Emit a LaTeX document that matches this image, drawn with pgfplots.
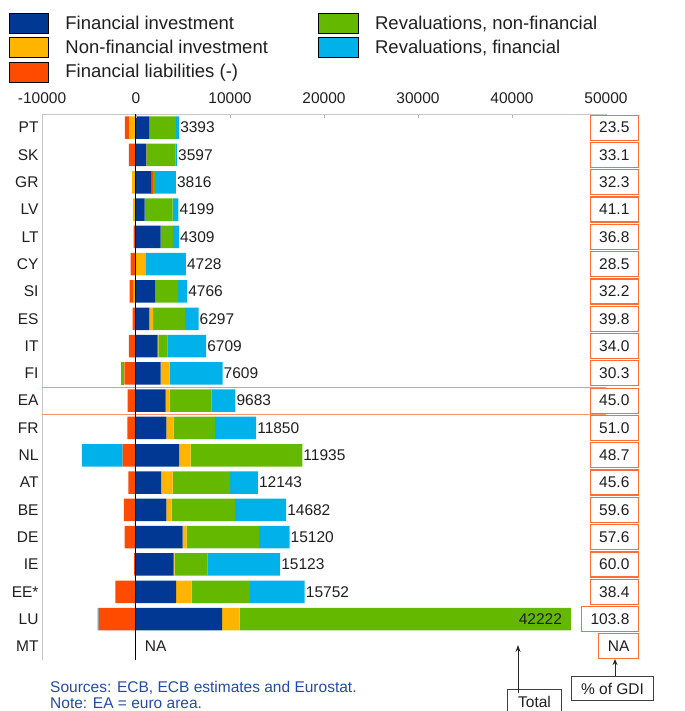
\documentclass[border=0pt]{standalone}
\usepackage{fontspec}
\setmainfont{Liberation Sans}
\usepackage{pgfplots}
\pgfplotsset{compat=1.18}
\usepackage{pgfplotstable}
\usetikzlibrary{arrows.meta}
\definecolor{ecbblue}{RGB}{0,56,148}
\definecolor{ecbyellow}{RGB}{255,180,0}
\definecolor{ecbred}{RGB}{255,75,0}
\definecolor{ecbgreen}{RGB}{101,184,0}
\definecolor{ecbcyan}{RGB}{0,177,234}
\definecolor{ecbtxt}{RGB}{35,75,165}
\newcommand{\lab}{\fontsize{15.5bp}{18bp}\selectfont}
\newcommand{\leg}{\fontsize{18.5bp}{22bp}\selectfont}

% positive parts (stacked from 0 to the right)
\pgfplotstableread{
y blue yellow red green cyan
19 1400 0 0 2850 330
18 1100 70 0 3050 140
17 1600 0 210 200 2230
16 920 0 0 2980 620
15 2620 0 0 1290 650
14 0 1040 0 0 4260
13 2070 0 0 2420 950
12 1420 390 0 3400 1440
11 2310 70 0 960 4115
10 2625 960 0 0 5620
9 3160 425 0 4440 2550
8 3230 780 0 4400 4365
7 4580 1240 0 11870 0
6 2660 1240 0 6120 2940
5 3230 570 0 6745 5420
4 4970 425 0 7670 3265
3 4010 90 0 3480 7750
2 4260 1670 0 6180 5840
1 9150 1880 0 35260 0
0 0 0 0 0 0
}\posdata

% negative parts (stacked from 0 to the left)
\pgfplotstableread{
y yellow red green cyan
19 -700 -490 0 0
18 0 -760 0 0
17 -425 0 0 0
16 -320 0 0 0
15 0 -250 0 0
14 0 -570 0 0
13 -250 -420 0 0
12 0 -355 0 0
11 0 -745 0 0
10 0 -1240 -355 0
9 0 -890 0 0
8 0 -925 0 0
7 0 -1420 0 -4330
6 0 -815 0 0
5 0 -1280 0 0
4 0 -1205 0 0
3 0 -210 0 0
2 0 -2200 0 0
1 0 -3970 0 -100
0 0 0 0 0
}\negdata

\pgfplotsset{base/.style={scale only axis, width=564bp, height=546bp,
  at={(42bp,-114bp)}, anchor=north west,
  xmin=-10000, xmax=50000, ymin=-0.5, ymax=19.5, scaled x ticks=false}}

\begin{document}
\begin{tikzpicture}
% negative stack
\begin{axis}[base, hide axis, xbar stacked, bar width=22.5bp]
\addplot[fill=ecbyellow, draw=none] table[x=yellow, y=y]{\negdata};
\addplot[fill=ecbred, draw=none] table[x=red, y=y]{\negdata};
\addplot[fill=ecbgreen, draw=none] table[x=green, y=y]{\negdata};
\addplot[fill=ecbcyan, draw=none] table[x=cyan, y=y]{\negdata};
\end{axis}
% positive stack
\begin{axis}[base, hide axis, xbar stacked, bar width=22.5bp]
\addplot[fill=ecbblue, draw=none] table[x=blue, y=y]{\posdata};
\addplot[fill=ecbyellow, draw=none] table[x=yellow, y=y]{\posdata};
\addplot[fill=ecbred, draw=none] table[x=red, y=y]{\posdata};
\addplot[fill=ecbgreen, draw=none] table[x=green, y=y]{\posdata};
\addplot[fill=ecbcyan, draw=none] table[x=cyan, y=y]{\posdata};
\end{axis}
% frame, labels, legend
\begin{axis}[base, clip=false,
  axis x line*=top, axis y line*=left,
  axis line style={draw=black!22, line width=1bp},
  xtick={-10000,0,10000,20000,30000,40000,50000},
  xticklabels={-10000,0,10000,20000,30000,40000,50000},
  ytick={0,...,19},
  yticklabels={MT,LU,EE*,IE,DE,BE,AT,NL,FR,EA,FI,IT,ES,SI,CY,LT,LV,GR,SK,PT},
  tick label style={font=\lab, text=black!88},
  xticklabel style={yshift=6.5bp},
  tick align=inside, major tick length=4bp,
  xtick style={draw=black!30, line width=0.8bp},
  ytick style={draw=none},
  legend columns=2, legend cell align=left,
  legend image code/.code={\fill[#1] (0bp,-10bp) rectangle (39.3bp,10bp);},
  legend style={at={(axis description cs:-0.0590,1.1850)}, anchor=north west,
    draw=none, fill=none, inner sep=0pt, outer sep=0pt,
    column sep=0pt, row sep=4bp,
    nodes={inner sep=0pt, font=\leg, text=black!88}},
]
\draw[ecbred!60, line width=1bp] (axis cs:-10000,9.5) -- (axis cs:50000,9.5);
\draw[ecbred!60, line width=1bp] (axis cs:-10000,8.5) -- (axis cs:50000,8.5);
\draw[black, line width=1bp] (axis cs:0,-0.5) -- (axis cs:0,19.5);
% totals
\addplot[forget plot, draw=none, nodes near coords, point meta=explicit symbolic,
  nodes near coords style={anchor=west, inner xsep=1bp, font=\lab, text=black!88}]
  coordinates {(4580,19)[3393] (4360,18)[3597] (4240,17)[3816] (4520,16)[4199]
  (4560,15)[4309] (5300,14)[4728] (5440,13)[4766] (6650,12)[6297] (7455,11)[6709]
  (9205,10)[7609] (10575,9)[9683] (12775,8)[11850] (17690,7)[11935] (12960,6)[12143]
  (15965,5)[14682] (16330,4)[15120] (15330,3)[15123] (17950,2)[15752]};
\addplot[forget plot, draw=none, nodes near coords, point meta=explicit symbolic,
  nodes near coords style={anchor=east, inner xsep=0pt, xshift=-9bp, font=\lab, text=black!88}]
  coordinates {(46290,1)[42222]};
\addplot[forget plot, draw=none, nodes near coords, point meta=explicit symbolic,
  nodes near coords style={anchor=west, inner xsep=0pt, xshift=8.7bp, font=\lab, text=black!88}]
  coordinates {(0,0)[NA]};
% percent of GDI
\addplot[forget plot, draw=none, nodes near coords, point meta=explicit symbolic,
  nodes near coords style={anchor=east, xshift=33bp, draw=ecbred!80, line width=1.2bp,
    fill=white, minimum height=25bp, inner xsep=9bp, inner ysep=0pt, font=\lab, text=black!88}]
  coordinates {(50000,19)[23.5] (50000,18)[33.1] (50000,17)[32.3] (50000,16)[41.1]
  (50000,15)[36.8] (50000,14)[28.5] (50000,13)[32.2] (50000,12)[39.8] (50000,11)[34.0]
  (50000,10)[30.3] (50000,9)[45.0] (50000,8)[51.0] (50000,7)[48.7] (50000,6)[45.6]
  (50000,5)[59.6] (50000,4)[57.6] (50000,3)[60.0] (50000,2)[38.4] (50000,1)[103.8]
  (50000,0)[NA]};
\addlegendimage{fill=ecbblue}
\addlegendentry{\makebox[270bp][l]{\hspace*{17bp}Financial investment}}
\addlegendimage{fill=ecbgreen}
\addlegendentry{\hspace*{17bp}Revaluations, non-financial}
\addlegendimage{fill=ecbyellow}
\addlegendentry{\makebox[270bp][l]{\hspace*{17bp}Non-financial investment}}
\addlegendimage{fill=ecbcyan}
\addlegendentry{\hspace*{17bp}Revaluations, financial}
\addlegendimage{fill=ecbred}
\addlegendentry{\makebox[270bp][l]{\hspace*{17bp}Financial liabilities (-)}}
\end{axis}
% notes and callouts
\node[anchor=base west, inner sep=0pt, text=ecbtxt, font=\lab] at (50bp,-692bp) {Sources: ECB, ECB estimates and Eurostat.};
\node[anchor=base west, inner sep=0pt, text=ecbtxt, font=\lab] at (50bp,-708.5bp) {Note: EA = euro area.};
\node[draw=black!75, line width=1bp, fill=white, minimum width=54bp, minimum height=24bp,
  anchor=north west, inner sep=0pt, font=\lab, text=black!88] at (507bp,-689bp) {Total};
\draw[black!85, line width=1bp, -{Stealth[length=7bp,width=5bp]}] (518bp,-693bp) -- (518bp,-645bp);
\node[draw=black!75, line width=1bp, fill=white, minimum width=82bp, minimum height=24bp,
  anchor=north west, inner sep=0pt, font=\lab, text=black!88] at (571bp,-676bp) {\% of GDI};
\draw[black!85, line width=1bp, -{Stealth[length=6bp,width=5bp]}] (615bp,-676bp) -- (615bp,-659bp);
\pgfresetboundingbox
\path[use as bounding box] (0bp,0bp) rectangle (685bp,-711bp);
\end{tikzpicture}
\end{document}
